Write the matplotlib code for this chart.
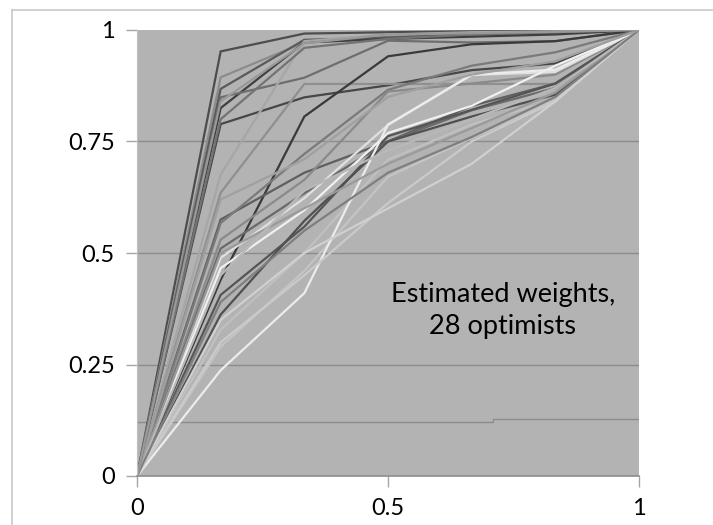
import numpy as np
import matplotlib.pyplot as plt
from matplotlib.lines import Line2D

# stimulus points (share of the range), same for every subject
x = [0, 1/6, 2/6, 3/6, 4/6, 5/6, 1]

# estimated weights of the 28 optimists, one row per subject
w01 = [0, 0.952, 0.992, 0.995, 0.997, 0.998, 1]
w02 = [0, 0.894, 0.972, 0.985, 0.990, 0.995, 1]
w03 = [0, 0.868, 0.978, 0.983, 0.990, 0.993, 1]
w04 = [0, 0.825, 0.972, 0.980, 0.985, 0.990, 1]
w05 = [0, 0.849, 0.893, 0.976, 0.972, 0.975, 1]
w06 = [0, 0.789, 0.849, 0.876, 0.910, 0.925, 1]
w07 = [0, 0.676, 0.975, 0.990, 0.995, 0.997, 1]
w08 = [0, 0.635, 0.879, 0.879, 0.879, 0.879, 1]
w09 = [0, 0.440, 0.806, 0.941, 0.968, 0.975, 1]
w10 = [0, 0.575, 0.680, 0.750, 0.830, 0.880, 1]
w11 = [0, 0.567, 0.722, 0.866, 0.920, 0.950, 1]
w12 = [0, 0.530, 0.664, 0.862, 0.880, 0.900, 1]
w13 = [0, 0.510, 0.634, 0.750, 0.820, 0.870, 1]
w14 = [0, 0.489, 0.623, 0.787, 0.899, 0.906, 1]
w15 = [0, 0.466, 0.596, 0.769, 0.830, 0.920, 1]
w16 = [0, 0.406, 0.559, 0.762, 0.821, 0.880, 1]
w17 = [0, 0.362, 0.572, 0.750, 0.806, 0.855, 1]
w18 = [0, 0.328, 0.500, 0.709, 0.788, 0.844, 1]
w19 = [0, 0.290, 0.460, 0.671, 0.758, 0.843, 1]
w20 = [0, 0.237, 0.410, 0.788, 0.900, 0.911, 1]
w21 = [0, 0.300, 0.450, 0.612, 0.750, 0.840, 1]
w22 = [0, 0.350, 0.500, 0.600, 0.700, 0.840, 1]
w23 = [0, 0.500, 0.600, 0.700, 0.780, 0.860, 1]
w24 = [0, 0.450, 0.640, 0.730, 0.800, 0.870, 1]
w25 = [0, 0.390, 0.550, 0.680, 0.760, 0.850, 1]
w26 = [0, 0.620, 0.710, 0.850, 0.900, 0.930, 1]
w27 = [0, 0.800, 0.960, 0.980, 0.990, 0.995, 1]
w28 = [0, 0.840, 0.970, 0.990, 0.993, 0.996, 1]

weights = [w01, w02, w03, w04, w05, w06, w07, w08, w09, w10, w11, w12, w13, w14,
           w15, w16, w17, w18, w19, w20, w21, w22, w23, w24, w25, w26, w27, w28]

# grey level of each subject's line
shades = ['#4d4d4d', '#8c8c8c', '#5a5a5a', '#3f3f3f', '#6e6e6e', '#474747', '#a6a6a6',
          '#8f8f8f', '#3a3a3a', '#5f5f5f', '#7a7a7a', '#8a8a8a', '#6a6a6a', '#e0e0e0',
          '#f0f0f0', '#555555', '#505050', '#c0c0c0', '#c4c4c4', '#ececec', '#cacaca',
          '#d0d0d0', '#9a9a9a', '#b8b8b8', '#7f7f7f', '#a0a0a0', '#737373', '#999999']

# stray horizontal rule near the bottom of the plot
rule_x = [0, 0.709, 0.709, 1]
rule_y = [0.122, 0.122, 0.127, 0.127]

yticks = [0, 0.25, 0.5, 0.75, 1]
ytick_labels = ['0', '0.25', '0.5', '0.75', '1']
xticks = [0, 0.5, 1]
xtick_labels = ['0', '0.5', '1']

plt.rcParams['font.family'] = ['Lato', 'DejaVu Sans']

fig = plt.figure(figsize=(7.13, 5.25), dpi=100)
ax = fig.add_axes([137 / 713, 49 / 525, 502 / 713, 446 / 525])
ax.set_facecolor('#b3b3b3')

for yv in [0.25, 0.5, 0.75]:
    ax.axhline(yv, color='#8c8c8c', lw=1.0, zorder=1)
ax.plot(rule_x, rule_y, color='#8c8c8c', lw=1.0, zorder=1)

for w, c in zip(weights, shades):
    ax.plot(x, w, color=c, lw=1.6, zorder=2, solid_joinstyle='miter')

ax.text(0.729, 0.37, 'Estimated weights,\n28 optimists', ha='center', va='center',
        fontsize=19.5, linespacing=1.35, color='black', zorder=3)

ax.set_xlim(0, 1)
ax.set_ylim(0, 1)
ax.set_xticks(xticks)
ax.set_xticklabels(xtick_labels)
ax.set_yticks(yticks)
ax.set_yticklabels(ytick_labels)
ax.tick_params(axis='both', length=8, width=1, color='#a6a6a6', labelsize=17, pad=8)
ax.tick_params(axis='x', pad=8)

for side in ['top', 'right']:
    ax.spines[side].set_visible(False)
ax.spines['left'].set_color('#bfbfbf')
ax.spines['bottom'].set_color('#8c8c8c')
ax.spines['bottom'].set_linewidth(1.2)

# outer chart frame (top and left edges)
fig.add_artist(Line2D([12 / 713, 1], [1 - 10 / 525, 1 - 10 / 525], color='#c8c8c8', lw=1.2))
fig.add_artist(Line2D([12 / 713, 12 / 713], [0, 1 - 10 / 525], color='#c8c8c8', lw=1.2))

fig.savefig('out.png', dpi=100)
